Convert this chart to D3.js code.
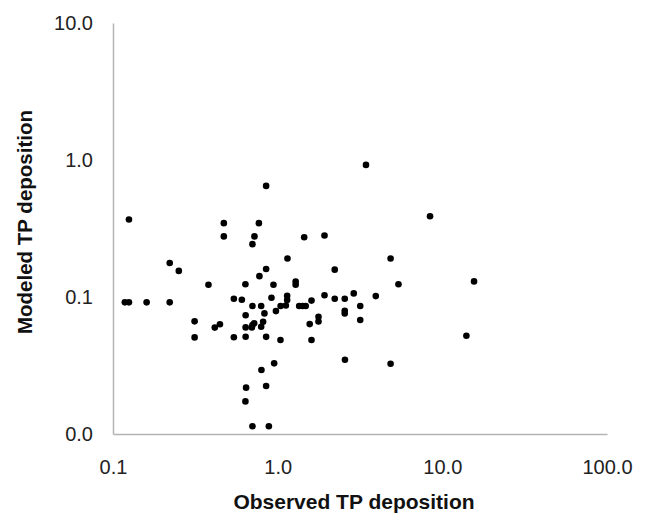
<!DOCTYPE html>
<html>
<head>
<meta charset="utf-8">
<script src="https://cdn.jsdelivr.net/npm/d3@7"></script>
<style>
  body { margin: 0; background: #fff; }
  text { font-family: "Liberation Sans", Arial, sans-serif; }
</style>
</head>
<body>
<script>
// observed vs modeled TP deposition (log-log)
let observed = [0.118, 0.125, 0.125, 0.160, 0.221, 0.221, 0.251, 0.313, 0.313, 0.380,
  0.415, 0.446, 0.471, 0.471, 0.542, 0.542, 0.606, 0.637, 0.639, 0.639,
  0.639, 0.643, 0.637, 0.697, 0.703, 0.703, 0.720, 0.703, 0.723, 0.703,
  0.769, 0.775, 0.794, 0.794, 0.816, 0.797, 0.831, 0.851, 0.851, 0.851,
  0.851, 0.884, 0.917, 0.943, 0.952, 0.976, 1.042, 1.040, 1.121, 1.147,
  1.142, 1.142, 1.286, 1.286, 1.351, 1.419, 1.480, 1.449, 1.565, 1.605,
  1.605, 1.770, 1.770, 1.925, 1.925, 2.221, 2.221, 2.555, 2.555, 2.555,
  2.562, 2.897, 3.172, 3.172, 3.438, 3.942, 4.850, 4.850, 5.415, 8.42,
  14.0, 15.58];
let modeled = [0.0914, 0.0914, 0.368, 0.0914, 0.177, 0.0914, 0.155, 0.0664, 0.0507, 0.1228,
  0.0598, 0.0632, 0.346, 0.277, 0.0970, 0.0508, 0.0954, 0.124, 0.0735, 0.0600,
  0.0513, 0.0218, 0.0173, 0.0600, 0.0859, 0.0624, 0.0642, 0.243, 0.277, 0.0114,
  0.346, 0.142, 0.0859, 0.0606, 0.0659, 0.0293, 0.0759, 0.647, 0.160, 0.0512,
  0.0224, 0.0114, 0.0987, 0.1228, 0.0328, 0.0789, 0.0859, 0.0485, 0.0866, 0.191,
  0.102, 0.0949, 0.1295, 0.1231, 0.0859, 0.0859, 0.0859, 0.273, 0.0634, 0.0941,
  0.0485, 0.0717, 0.0662, 0.281, 0.1029, 0.1584, 0.0970, 0.0970, 0.0793, 0.0757,
  0.0348, 0.1062, 0.0859, 0.0679, 0.921, 0.1015, 0.191, 0.0326, 0.124, 0.389,
  0.0521, 0.130];
let xTicks = [0.1, 1, 10, 100];
let yTicks = [0.01, 0.1, 1, 10];

let w = 649;
let h = 517;
let plotLeft = 113, plotRight = 607, plotTop = 23, plotBottom = 434;

let x = d3.scaleLog().domain([0.1, 100]).range([plotLeft, plotRight]);
let y = d3.scaleLog().domain([0.01, 10]).range([plotBottom, plotTop]);
let fmt = d3.format(".1f");

let svg = d3.select("body")
            .append("svg")
            .attr("width", w)
            .attr("height", h);

let xAxis = svg.append("g")
   .attr("transform", "translate(0," + plotBottom + ")")
   .call(d3.axisBottom(x).tickValues(xTicks).tickFormat(fmt).tickSize(0).tickPadding(26));
let yAxis = svg.append("g")
   .attr("transform", "translate(" + plotLeft + ",0)")
   .call(d3.axisLeft(y).tickValues(yTicks).tickFormat(fmt).tickSize(0).tickPadding(20));

[xAxis, yAxis].forEach(g => {
  g.select(".domain").attr("stroke", "#b4b4b4").attr("stroke-width", 1.5);
  g.selectAll("text").attr("font-size", 20).attr("fill", "#222")
   .attr("font-family", "'Liberation Sans', Arial, sans-serif");
});

svg.selectAll("circle")
   .data(observed)
   .enter()
   .append("circle")
   .attr("cx", d => x(d))
   .attr("cy", (d, i) => y(modeled[i]))
   .attr("r", 3.3)
   .attr("fill", "#000");

svg.append("text")
   .attr("x", 354)
   .attr("y", 509)
   .attr("text-anchor", "middle")
   .attr("font-size", 21)
   .attr("font-weight", "bold")
   .attr("fill", "#111")
   .text("Observed TP deposition");

svg.append("text")
   .attr("transform", "translate(32,222) rotate(-90)")
   .attr("text-anchor", "middle")
   .attr("font-size", 20.5)
   .attr("font-weight", "bold")
   .attr("fill", "#111")
   .text("Modeled TP deposition");
</script>
</body>
</html>
